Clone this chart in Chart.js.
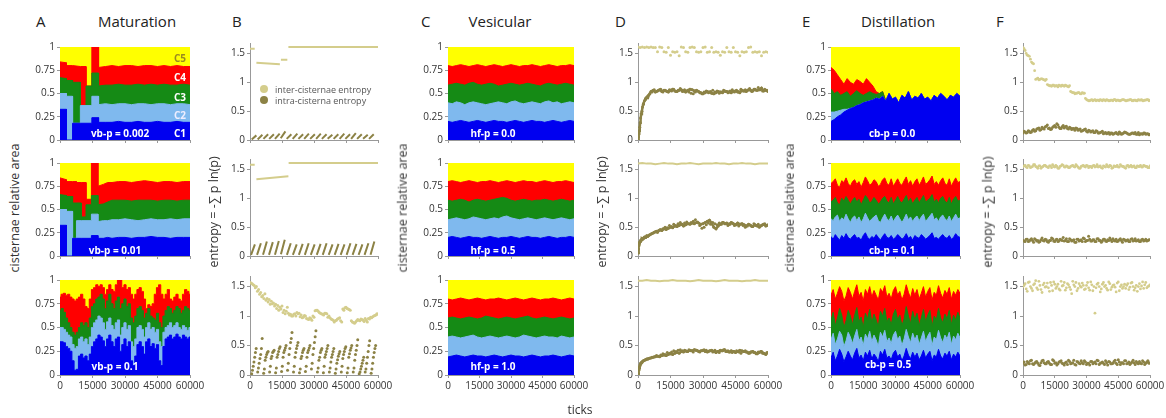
<!DOCTYPE html>
<html>
<head>
<meta charset="utf-8">
<script src="https://cdn.jsdelivr.net/npm/chart.js@4.4.0/dist/chart.umd.min.js"></script>
<style>
body { margin:0; background:#fff; width:1166px; height:418px; overflow:hidden; position:relative; font-family:'Open Sans', sans-serif; }
canvas { position:absolute; }
.t { position:absolute; white-space:nowrap; color:#222; line-height:1; }
.ttl { font-size:15px; }
.mid { transform:translateX(-50%); }
.ax { font-size:12.5px; color:#333; transform:translate(-50%,-50%) rotate(-90deg); }
.in { font-size:10px; font-weight:bold; color:#fff; transform:translate(-50%,-50%); }
.lg { font-size:9px; color:#555; transform:translateY(-50%); }
.dot { position:absolute; width:8px; height:8px; border-radius:50%; transform:translate(-50%,-50%); }
</style>
</head>
<body>
<script>
// tick grids (simulation ticks)
const tk31 = [0,2000,4000,6000,8000,10000,12000,14000,16000,18000,20000,22000,24000,26000,28000,30000,32000,34000,36000,38000,40000,42000,44000,46000,48000,50000,52000,54000,56000,58000,60000];
const tk41 = [0,1500,3000,4500,6000,7500,9000,10500,12000,13500,15000,16500,18000,19500,21000,22500,24000,25500,27000,28500,30000,31500,33000,34500,36000,37500,39000,40500,42000,43500,45000,46500,48000,49500,51000,52500,54000,55500,57000,58500,60000];
const tk61 = [0,1000,2000,3000,4000,5000,6000,7000,8000,9000,10000,11000,12000,13000,14000,15000,16000,17000,18000,19000,20000,21000,22000,23000,24000,25000,26000,27000,28000,29000,30000,31000,32000,33000,34000,35000,36000,37000,38000,39000,40000,41000,42000,43000,44000,45000,46000,47000,48000,49000,50000,51000,52000,53000,54000,55000,56000,57000,58000,59000,60000];
const tkH = [500,1500,2500,3500,4500,5500,6500,7500,8500,9500,10500,11500,12500,13500,14500,15500,16500,17500,18500,19500,20500,21500,22500,23500,24500,25500,26500,27500,28500,29500,30500,31500,32500,33500,34500,35500,36500,37500,38500,39500,40500,41500,42500,43500,44500,45500,46500,47500,48500,49500,50500,51500,52500,53500,54500,55500,56500,57500,58500,59500];
const tkD = [0,200,400,600,800,1000,1200,1500,1800,2100,2500,3000,3500,4000,4500,5000,6000,7000,8000,9000,10000,11000,12000,13000,14000,15000,16000,17000,18000,19000,20000,21000,22000,23000,24000,25000,26000,27000,28000,29000,30000,31000,32000,33000,34000,35000,36000,37000,38000,39000,40000,41000,42000,43000,44000,45000,46000,47000,48000,49000,50000,51000,52000,53000,54000,55000,56000,57000,58000,59000,60000];

const xTicks = [0,15000,30000,45000,60000];
const areaTicks = [0,0.25,0.5,0.75,1];
const entTicks = [0,0.5,1,1.5];

// Maturation: cumulative tops of C1..C4 (C5 fills to 1)
const matX1 = [0,3000,3000,5800,5800,9400,9400,12000,12000,14700,14700,17800,17800,21000,24000,27000,30000,33000,36000,39000,42000,45000,48000,51000,54000,57000,60000];
const mat1C1 = [.33,.33,0,0,.18,.18,.18,.18,.18,.18,.24,.24,.19,.19,.19,.2,.19,.19,.2,.19,.19,.2,.19,.19,.2,.19,.19];
const mat1C2 = [.5,.5,.47,.47,.18,.18,.37,.37,.37,.37,.47,.47,.38,.39,.38,.39,.39,.38,.39,.39,.38,.39,.39,.38,.39,.39,.38];
const mat1C3 = [.67,.66,.64,.64,.62,.62,.37,.37,.58,.58,.72,.72,.58,.59,.59,.6,.59,.59,.6,.59,.6,.59,.6,.59,.59,.6,.59];
const mat1C4 = [.84,.83,.8,.8,.8,.79,.79,.79,.58,.58,1,1,.78,.79,.8,.79,.8,.8,.79,.8,.8,.79,.8,.79,.8,.79,.79];

const matX2 = [0,3000,3000,5800,5800,7600,7600,9800,9800,12000,12000,14500,14500,17500,17500,20000,22000,24000,27000,30000,33000,36000,39000,42000,45000,48000,51000,54000,57000,60000];
const mat2C1 = [.33,.33,0,0,.19,.19,.19,.19,.19,.19,.19,.19,.22,.22,.19,.19,.2,.19,.2,.2,.19,.2,.2,.21,.2,.2,.19,.2,.2,.2];
const mat2C2 = [.5,.5,.48,.48,.19,.19,.38,.38,.38,.38,.38,.38,.45,.45,.37,.38,.38,.39,.39,.4,.39,.38,.39,.4,.39,.39,.4,.39,.4,.4];
const mat2C3 = [.66,.65,.64,.64,.57,.57,.57,.57,.42,.42,.55,.55,.65,.65,.55,.56,.58,.6,.6,.6,.59,.6,.6,.6,.59,.6,.6,.59,.6,.6];
const mat2C4 = [.84,.82,.8,.8,.8,.8,.79,.79,.79,.79,.61,.61,1,1,.75,.77,.79,.79,.8,.8,.79,.8,.81,.8,.79,.8,.8,.79,.8,.8];

const mat3C1 = [.35,.35,.34,.3,.28,.25,.15,.05,.06,.2,.22,.18,.2,.15,.22,.3,.35,.38,.42,.4,.36,.3,.38,.42,.35,.3,.38,.4,.25,.32,.38,.3,.35,.15,.1,.2,.32,.35,.3,.22,.35,.38,.3,.33,.28,.32,.15,.1,.3,.38,.4,.42,.38,.4,.43,.4,.38,.42,.4,.38,.4];
const mat3C2 = [.5,.5,.48,.45,.42,.4,.32,.28,.3,.38,.4,.35,.38,.32,.4,.5,.55,.58,.62,.6,.55,.48,.56,.6,.52,.48,.55,.58,.42,.5,.55,.48,.52,.35,.3,.38,.5,.52,.48,.4,.5,.55,.48,.5,.45,.48,.35,.3,.45,.5,.52,.55,.5,.52,.55,.5,.48,.52,.5,.47,.5];
const mat3C3 = [.68,.7,.66,.6,.55,.5,.45,.42,.45,.5,.55,.52,.55,.5,.6,.72,.75,.8,.82,.85,.8,.7,.78,.85,.75,.7,.78,.82,.7,.75,.8,.72,.75,.6,.55,.62,.7,.72,.68,.6,.65,.7,.62,.6,.58,.65,.55,.5,.62,.68,.72,.7,.65,.68,.72,.7,.65,.68,.72,.7,.68];
const mat3C4 = [.82,.85,.86,.84,.85,.82,.8,.78,.8,.82,.85,.8,.72,.7,.8,.9,.92,.95,.93,.95,.92,.85,.9,.95,.9,.88,.95,1,1,.92,.95,.9,.92,.85,.8,.85,.9,.92,.88,.8,.7,.74,.72,.75,.85,.92,.95,.85,.8,.85,.9,.8,.78,.82,.85,.8,.78,.85,.9,.88,.85];

// Vesicular
const ves1C1 = [.2,.19,.2,.21,.2,.19,.2,.21,.2,.19,.2,.21,.2,.2,.19,.2,.21,.2,.19,.2,.21,.2,.2,.19,.2,.21,.2,.19,.2,.21,.2];
const ves1C2 = [.4,.39,.41,.4,.38,.4,.41,.4,.39,.38,.39,.4,.41,.4,.39,.41,.42,.4,.39,.4,.41,.4,.39,.41,.42,.4,.41,.39,.4,.41,.4];
const ves1C3 = [.59,.6,.61,.6,.59,.61,.62,.6,.59,.6,.61,.6,.58,.59,.6,.61,.6,.59,.6,.61,.6,.59,.58,.6,.61,.6,.59,.6,.61,.6,.59];
const ves1C4 = [.8,.79,.8,.81,.8,.79,.8,.81,.8,.79,.8,.81,.8,.79,.8,.81,.8,.79,.8,.8,.81,.8,.79,.8,.81,.8,.79,.8,.8,.81,.8];
const ves2C1 = [.2,.21,.2,.19,.2,.21,.2,.2,.19,.2,.21,.2,.19,.2,.2,.21,.2,.19,.2,.21,.2,.2,.19,.2,.21,.2,.19,.2,.2,.21,.2];
const ves2C2 = [.39,.4,.41,.4,.39,.4,.42,.41,.4,.39,.4,.41,.4,.42,.43,.41,.4,.39,.4,.41,.4,.39,.4,.41,.4,.39,.4,.41,.4,.39,.4];
const ves2C3 = [.6,.59,.6,.61,.6,.58,.6,.61,.6,.59,.6,.61,.62,.63,.62,.6,.59,.6,.61,.6,.59,.6,.6,.61,.6,.59,.6,.61,.6,.59,.6];
const ves2C4 = [.8,.81,.8,.79,.8,.81,.8,.79,.8,.8,.81,.8,.79,.8,.81,.8,.79,.8,.81,.8,.8,.79,.8,.81,.8,.79,.8,.8,.81,.8,.79];
const ves3C1 = [.19,.2,.21,.2,.19,.2,.21,.2,.2,.19,.2,.21,.2,.19,.2,.21,.2,.2,.19,.2,.21,.2,.19,.2,.2,.21,.2,.19,.2,.21,.2];
const ves3C2 = [.4,.41,.4,.39,.4,.41,.42,.4,.39,.4,.41,.4,.39,.4,.41,.4,.39,.4,.42,.41,.4,.39,.4,.41,.4,.4,.39,.41,.4,.39,.4];
const ves3C3 = [.6,.61,.6,.59,.6,.61,.6,.59,.6,.62,.61,.6,.59,.6,.61,.6,.59,.6,.61,.62,.6,.59,.6,.61,.6,.59,.6,.61,.6,.59,.6];
const ves3C4 = [.8,.79,.8,.81,.8,.79,.8,.81,.8,.79,.8,.8,.81,.8,.79,.8,.81,.8,.79,.8,.81,.8,.79,.8,.8,.81,.8,.79,.8,.81,.8];

// Distillation
const dis1C1 = [.2,.22,.25,.27,.3,.32,.34,.35,.37,.38,.4,.41,.42,.43,.45,.44,.47,.42,.5,.44,.46,.4,.48,.45,.52,.43,.47,.45,.5,.44,.46,.42,.48,.45,.5,.47,.43,.48,.46,.5,.47];
const dis1C2 = [.3,.3,.31,.32,.33,.33,.34,.35,.37,.38,.4,.41,.42,.43,.45,.44,.47,.42,.5,.44,.46,.4,.48,.45,.52,.43,.47,.45,.5,.44,.46,.42,.48,.45,.5,.47,.43,.48,.46,.5,.47];
const dis1C3 = [.55,.5,.52,.48,.5,.52,.47,.5,.53,.5,.48,.5,.52,.5,.49,.5,.52,.42,.5,.44,.46,.4,.48,.45,.52,.43,.47,.45,.5,.44,.46,.42,.48,.45,.5,.47,.43,.48,.46,.5,.47];
const dis1C4 = [.78,.75,.7,.65,.6,.66,.62,.6,.65,.63,.6,.66,.62,.58,.52,.5,.52,.42,.5,.44,.46,.4,.48,.45,.52,.43,.47,.45,.5,.44,.46,.42,.48,.45,.5,.47,.43,.48,.46,.5,.47];
const dis2C1 = [.21,.18,.23,.2,.17,.22,.19,.24,.2,.18,.21,.23,.19,.2,.17,.22,.25,.2,.18,.21,.19,.23,.2,.17,.21,.24,.2,.19,.22,.18,.2,.23,.21,.18,.2,.24,.19,.21,.17,.22,.2,.19,.23,.21,.18,.2,.22,.25,.19,.2,.18,.21,.23,.2,.19,.22,.18,.2,.24,.21,.2];
const dis2C2 = [.4,.38,.42,.44,.37,.41,.39,.45,.4,.36,.41,.43,.38,.42,.36,.4,.46,.41,.37,.4,.42,.44,.38,.36,.41,.45,.4,.38,.43,.37,.41,.44,.4,.36,.4,.45,.39,.42,.37,.41,.43,.38,.42,.45,.37,.4,.43,.46,.39,.41,.37,.42,.44,.4,.38,.43,.37,.41,.45,.4,.41];
const dis2C3 = [.58,.6,.63,.57,.55,.62,.59,.64,.6,.56,.6,.63,.58,.61,.55,.6,.65,.62,.57,.59,.63,.6,.56,.58,.62,.64,.59,.57,.63,.56,.6,.64,.59,.57,.61,.65,.58,.62,.56,.6,.63,.57,.61,.65,.58,.6,.62,.66,.58,.61,.57,.62,.64,.59,.57,.63,.56,.61,.64,.59,.6];
const dis2C4 = [.78,.8,.83,.76,.74,.81,.79,.84,.78,.75,.8,.82,.77,.8,.74,.79,.85,.81,.76,.78,.82,.8,.75,.77,.82,.84,.78,.76,.83,.75,.79,.83,.78,.76,.81,.85,.77,.81,.75,.8,.83,.76,.8,.85,.77,.79,.82,.86,.77,.8,.76,.81,.84,.78,.76,.83,.75,.8,.84,.79,.8];
const dis3C1 = [.18,.24,.15,.2,.27,.22,.14,.19,.25,.2,.16,.23,.28,.18,.21,.15,.24,.2,.26,.17,.22,.19,.14,.25,.21,.27,.18,.2,.16,.23,.26,.19,.22,.15,.2,.28,.21,.17,.24,.19,.23,.16,.2,.26,.18,.22,.25,.15,.21,.19,.27,.2,.17,.23,.2,.25,.16,.22,.19,.24,.2];
const dis3C2 = [.37,.44,.32,.38,.46,.42,.3,.36,.45,.4,.33,.41,.48,.36,.4,.31,.43,.38,.46,.35,.42,.37,.3,.45,.4,.47,.35,.39,.33,.42,.46,.37,.41,.31,.38,.48,.4,.34,.44,.37,.42,.32,.39,.46,.35,.41,.45,.31,.4,.37,.47,.39,.34,.42,.38,.45,.32,.41,.37,.44,.39];
const dis3C3 = [.58,.66,.52,.6,.7,.63,.5,.57,.68,.62,.53,.63,.71,.56,.61,.5,.65,.59,.69,.55,.64,.58,.51,.67,.62,.7,.56,.6,.53,.64,.69,.58,.63,.52,.59,.72,.62,.54,.67,.58,.65,.52,.6,.69,.56,.63,.68,.51,.62,.58,.7,.6,.55,.64,.59,.68,.53,.63,.58,.66,.6];
const dis3C4 = [.84,.9,.8,.86,.93,.88,.78,.83,.92,.87,.8,.88,.95,.83,.87,.78,.9,.85,.93,.82,.89,.84,.79,.91,.87,.94,.82,.86,.8,.89,.93,.84,.88,.79,.85,.95,.87,.81,.91,.84,.9,.8,.86,.93,.82,.88,.92,.79,.87,.84,.94,.86,.81,.89,.85,.92,.8,.88,.84,.9,.86];

// Entropy, Maturation column (B)
const b1InterX = [0,2200,2300,3000,14000,14100,14500,17500,17600,18000,60000];
const b1InterY = [1.58,1.58,null,1.34,1.31,null,1.39,1.39,null,1.61,1.61];
const b1IntraX = [800,3000,3000,3600,5800,5800,6300,8500,8500,9000,11200,11200,11700,13900,13900,14400,16600,16600,17200,19400,19400,20000,22200,22200,22700,24900,24900,25400,27600,27600,28200,30400,30400,31000,33200,33200,33700,35900,35900,36400,38600,38600,39200,41400,41400,42000,44200,44200,44700,46900,46900,47400,49600,49600,50200,52400,52400,53000,55200,55200,55800,58000];
const b1IntraY = [.01,.08,null,.01,.09,null,.02,.1,null,.02,.1,null,.02,.11,null,.03,.15,null,.02,.1,null,.02,.11,null,.02,.1,null,.02,.11,null,.02,.1,null,.02,.11,null,.02,.1,null,.02,.09,null,.02,.1,null,.02,.11,null,.02,.1,null,.02,.12,null,.02,.1,null,.02,.09,null,.02,.1];
const b2InterX = [0,2200,2300,3000,18000,18100,18100,60000];
const b2InterY = [1.58,1.58,null,1.33,1.38,null,1.61,1.61];
const b2IntraX = [500,2300,2300,3300,5100,5100,6100,7900,7900,8900,10700,10700,11700,13500,13500,14500,16300,16300,17300,19100,19100,20100,21900,21900,22900,24700,24700,25700,27500,27500,28500,30300,30300,31300,33100,33100,34100,35900,35900,36900,38700,38700,39700,41500,41500,42500,44300,44300,45300,47100,47100,48100,49900,49900,50900,52700,52700,53700,55500,55500,56500,58300];
const b2IntraY = [.02,.2,null,.02,.22,null,.02,.25,null,.02,.24,null,.02,.26,null,.03,.28,null,.02,.22,null,.02,.2,null,.02,.21,null,.02,.22,null,.02,.2,null,.02,.21,null,.02,.22,null,.02,.2,null,.02,.21,null,.02,.2,null,.02,.22,null,.02,.21,null,.02,.2,null,.02,.22,null,.02,.25];
const b3InterY = [1.57,1.55,1.52,1.5,1.45,1.4,1.35,1.38,1.3,1.28,1.25,1.22,1.2,1.18,1.15,1.17,1.1,1.08,1.05,1.03,1.0,1.04,1.06,1.05,1.02,.98,1.0,.95,.97,.93,.98,1.1,1.08,1.05,1.03,1.05,1.04,1.0,.95,.93,.92,.95,.97,.9,1.1,1.15,1.12,1.1,.9,.88,.92,.93,.95,.93,.96,.9,.95,.97,1.0,1.02,1.03];
const b3InterY2 = [1.56,1.53,1.48,1.42,1.37,1.33,1.3,1.27,1.24,1.2,1.21,1.17,1.13,1.1,1.12,1.06,1.04,1.15,1.02,1.0,1.03,1.0,1.04,.99,.97,1.01,.96,.94,.96,1.0,1.09,1.1,1.06,1.04,1.02,1.05,.98,.97,.94,.9,.93,.96,.92,1.12,1.14,1.13,1.11,.92,.89,.9,.94,.92,.94,.91,.93,.96,.98,.99,1.01,1.04];
const b3IntraX = [800,1500,2200,2900,3600,4300,5000,5700,6400,7100,7800,8500,9200,9900,10600,11300,12000,12700,13400,14100,14800,15500,16200,16900,17600,18300,19000,19700,20400,21100,21800,22500,23200,23900,24600,25300,26000,26700,27400,28100,28800,29500,30200,30900,31600,32300,33000,33700,34400,35100,35800,36500,37200,37900,38600,39300,40000,40700,41400,42100,42800,43500,44200,44900,45600,46300,47000,47700,48400,49100,49800,50500,51200,51900,52600,53300,54000,54700,55400,56100,56800,57500,58200,58900];
const b3IntraY = [.02,.15,.3,.45,.05,.2,.35,.62,.03,.25,.35,.4,.05,.28,.38,.42,.04,.3,.4,.48,.06,.3,.42,.5,.08,.35,.55,.72,.05,.3,.45,.55,.04,.28,.38,.45,.06,.3,.42,.5,.1,.35,.55,.75,.05,.25,.38,.45,.04,.3,.4,.5,.05,.22,.35,.45,.03,.2,.32,.4,.05,.28,.4,.48,.04,.3,.42,.5,.05,.25,.42,.6,.02,.1,.2,.3,.05,.2,.4,.58,.03,.2,.38,.5];
const b3IntraX2 = [1150,1850,2550,3950,4650,5350,6750,7450,8150,9550,10250,10950,12350,13050,13750,15150,15850,16550,17950,18650,19350,20750,21450,22150,23550,24250,24950,26350,27050,27750,29150,29850,30550,31950,32650,33350,34750,35450,36150,37550,38250,38950,40350,41050,41750,43150,43850,44550,45950,46650,47350,48750,49450,50150,51550,52250,52950,54350,55050,55750,57150,57850,58550];
const b3IntraY2 = [.08,.22,.38,.12,.28,.45,.1,.3,.38,.15,.32,.4,.12,.35,.45,.15,.38,.46,.2,.45,.62,.15,.38,.5,.1,.32,.42,.15,.38,.46,.2,.45,.65,.12,.3,.42,.15,.35,.45,.12,.3,.4,.1,.26,.36,.15,.35,.45,.12,.36,.46,.12,.35,.5,.05,.15,.25,.1,.3,.5,.1,.3,.45];

// Entropy, Vesicular column (D)
const d1InterY = [1.61,1.6,1.61,1.6,1.61,1.6,1.61,1.6,1.6,1.53,1.61,1.6,1.53,1.52,1.6,1.47,1.53,1.52,1.53,1.46,1.61,1.6,1.53,1.52,1.6,1.61,1.6,1.53,1.52,1.53,1.6,1.61,1.52,1.53,1.6,1.52,1.53,1.52,1.47,1.53,1.52,1.6,1.53,1.52,1.6,1.53,1.52,1.46,1.53,1.52,1.53,1.6,1.61,1.52,1.53,1.52,1.53,1.46,1.52,1.53,1.52];
const d1IntraY = [0,.05,.1,.16,.22,.3,.38,.45,.5,.57,.63,.68,.72,.74,.73,.78,.84,.86,.83,.85,.87,.84,.86,.85,.83,.86,.88,.85,.84,.86,.87,.85,.83,.86,.88,.87,.85,.86,.84,.82,.8,.82,.84,.83,.81,.8,.82,.84,.83,.82,.85,.84,.83,.82,.84,.85,.83,.82,.86,.85,.84,.87,.86,.85,.88,.86,.87,.9,.85,.86,.84];
const d1IntraY2 = [.12,.46,.62,.7,.76,.8,.83,.87,.84,.86,.88,.83,.86,.84,.87,.85,.88,.84,.86,.89,.84,.87,.85,.83,.81,.8,.83,.85,.82,.8,.83,.85,.82,.84,.86,.83,.85,.81,.83,.86,.84,.82,.85,.87,.83,.86,.84,.88,.85,.87,.86,.89,.84,.88,.86,.91,.87,.85,.88,.86];
const d2InterY = [1.6,1.61,1.6,1.6,1.59,1.6,1.61,1.6,1.6,1.59,1.6,1.6,1.61,1.6,1.59,1.6,1.6,1.6,1.61,1.6,1.6,1.59,1.6,1.6,1.61,1.6,1.6,1.59,1.6,1.6,1.6];
const d2IntraY = [.05,.12,.2,.22,.24,.25,.27,.28,.3,.29,.31,.33,.32,.35,.34,.36,.38,.4,.42,.41,.45,.44,.47,.46,.48,.5,.49,.52,.51,.53,.55,.52,.54,.56,.55,.57,.56,.58,.57,.55,.56,.58,.6,.62,.57,.5,.47,.52,.55,.58,.56,.57,.55,.58,.56,.54,.57,.55,.56,.54,.52,.55,.53,.51,.54,.52,.5,.53,.55,.52,.54];
const d2IntraY2 = [.18,.27,.3,.32,.34,.37,.39,.41,.43,.44,.46,.47,.5,.49,.53,.51,.55,.53,.56,.58,.55,.57,.59,.56,.58,.6,.63,.59,.53,.48,.5,.54,.57,.55,.58,.56,.54,.57,.55,.58,.56,.53,.55,.57,.53,.54,.52,.55,.53,.5,.52,.54,.51,.56,.53,.55,.52,.54,.56,.53];
const d3InterY = [1.6,1.6,1.61,1.6,1.6,1.59,1.6,1.6,1.61,1.6,1.6,1.6,1.59,1.6,1.61,1.6,1.6,1.6,1.59,1.6,1.61,1.6,1.6,1.6,1.59,1.6,1.6,1.61,1.6,1.6,1.6];
const d3IntraY = [0,.03,.08,.12,.15,.18,.2,.21,.22,.23,.24,.25,.26,.27,.27,.28,.29,.3,.31,.32,.31,.33,.34,.33,.35,.36,.35,.37,.38,.37,.4,.39,.41,.4,.42,.41,.43,.42,.4,.41,.42,.4,.39,.41,.42,.4,.38,.4,.42,.41,.43,.4,.39,.41,.4,.38,.4,.42,.41,.4,.39,.37,.39,.4,.38,.36,.38,.4,.37,.35,.38];
const d3IntraY2 = [.1,.2,.24,.26,.27,.29,.3,.31,.33,.32,.34,.36,.35,.38,.37,.39,.41,.4,.42,.43,.41,.42,.4,.43,.41,.39,.42,.41,.39,.41,.43,.42,.4,.41,.39,.42,.4,.38,.41,.43,.4,.41,.39,.38,.4,.41,.39,.37,.4,.41,.39,.37,.39,.38,.36,.39,.4,.37,.36,.38];

// Entropy, Distillation column (F)
const f1InterY = [1.6,1.55,1.47,1.45,1.35,1.32,1.05,1.07,1.05,1.06,1.04,1.05,.95,.94,.95,.93,.94,.95,.93,.94,.95,.93,.94,.83,.82,.81,.82,.8,.82,.81,.7,.68,.69,.68,.7,.69,.68,.69,.7,.68,.69,.68,.69,.7,.68,.69,.68,.7,.69,.68,.69,.7,.68,.69,.68,.69,.7,.68,.69,.7,.69];
const f1InterY2 = [1.58,1.5,1.46,1.4,1.33,1.2,1.06,1.04,1.06,1.05,1.03,.96,.94,.93,.95,.94,.92,.94,.95,.93,.94,.92,.84,.82,.8,.81,.82,.8,.81,.72,.69,.68,.7,.69,.68,.69,.7,.68,.69,.7,.68,.69,.68,.7,.69,.68,.69,.7,.68,.69,.7,.68,.69,.68,.7,.69,.68,.69,.7,.68];
const f1IntraY = [.12,.14,.13,.15,.14,.18,.16,.2,.17,.22,.19,.24,.2,.18,.22,.25,.28,.22,.2,.25,.23,.2,.22,.18,.2,.21,.17,.19,.16,.18,.15,.17,.14,.16,.13,.15,.12,.14,.11,.13,.12,.1,.12,.11,.13,.1,.12,.11,.14,.12,.1,.11,.12,.13,.1,.09,.11,.12,.1,.11,.1];
const f1IntraY2 = [.15,.12,.16,.13,.17,.15,.19,.21,.18,.2,.23,.26,.21,.19,.24,.22,.26,.2,.23,.21,.24,.19,.21,.2,.17,.2,.18,.15,.17,.19,.14,.16,.15,.13,.16,.12,.13,.15,.12,.11,.13,.12,.1,.12,.11,.14,.1,.12,.13,.11,.1,.12,.11,.1,.13,.11,.1,.12,.11,.09];
const f2InterY = [1.55,1.57,1.53,1.56,1.54,1.58,1.55,1.52,1.56,1.54,1.57,1.55,1.53,1.56,1.58,1.54,1.55,1.52,1.56,1.57,1.54,1.55,1.53,1.56,1.55,1.58,1.54,1.52,1.56,1.55,1.57,1.53,1.55,1.56,1.54,1.58,1.55,1.53,1.56,1.54,1.55,1.57,1.52,1.56,1.55,1.54,1.58,1.55,1.53,1.56,1.54,1.57,1.55,1.53,1.56,1.55,1.54,1.57,1.55,1.53,1.56];
const f2InterY2 = [1.56,1.54,1.57,1.53,1.55,1.58,1.54,1.56,1.52,1.55,1.57,1.54,1.56,1.53,1.55,1.57,1.52,1.55,1.58,1.54,1.56,1.53,1.55,1.57,1.54,1.56,1.52,1.55,1.57,1.54,1.56,1.55,1.53,1.57,1.55,1.54,1.56,1.52,1.55,1.58,1.54,1.56,1.53,1.55,1.57,1.54,1.56,1.55,1.52,1.57,1.55,1.54,1.56,1.53,1.55,1.57,1.54,1.56,1.55,1.53];
const f2IntraY = [.27,.25,.29,.26,.3,.24,.28,.27,.25,.31,.26,.28,.24,.27,.3,.25,.29,.26,.28,.32,.27,.25,.3,.26,.28,.24,.29,.27,.25,.3,.27,.34,.26,.28,.25,.3,.27,.24,.29,.26,.28,.31,.25,.27,.29,.26,.3,.24,.28,.27,.25,.29,.26,.3,.27,.25,.28,.26,.29,.27,.28];
const f2IntraY2 = [.26,.29,.25,.28,.27,.3,.26,.24,.28,.27,.29,.25,.27,.31,.26,.28,.25,.29,.27,.26,.3,.25,.28,.27,.24,.29,.26,.28,.31,.25,.27,.29,.26,.28,.25,.3,.27,.26,.29,.25,.27,.28,.3,.26,.25,.28,.27,.29,.26,.28,.25,.3,.27,.26,.28,.25,.29,.27,.26,.28];
const f3InterY = [1.5,1.55,1.42,1.58,1.47,1.53,1.6,1.45,1.52,1.4,1.56,1.5,1.48,1.57,1.43,1.54,1.5,1.46,1.59,1.52,1.44,1.55,1.49,1.38,1.53,1.57,1.47,1.51,1.56,1.45,1.52,1.48,1.58,1.43,1.05,1.54,1.5,1.46,1.57,1.52,1.44,1.55,1.49,1.53,1.41,1.58,1.5,1.47,1.54,1.52,1.45,1.56,1.5,1.48,1.42,1.55,1.51,1.47,1.57,1.5,1.53];
const f3InterY2 = [1.52,1.46,1.57,1.5,1.43,1.55,1.48,1.59,1.45,1.53,1.49,1.56,1.42,1.52,1.58,1.47,1.54,1.44,1.51,1.57,1.48,1.53,1.45,1.59,1.5,1.43,1.55,1.49,1.52,1.46,1.57,1.44,1.53,1.5,1.48,1.56,1.41,1.54,1.5,1.47,1.58,1.45,1.52,1.49,1.56,1.43,1.53,1.5,1.47,1.55,1.49,1.57,1.44,1.52,1.5,1.46,1.58,1.53,1.48,1.51];
const f3IntraY = [.2,.17,.23,.19,.25,.18,.22,.2,.16,.24,.21,.19,.23,.18,.26,.2,.17,.22,.24,.19,.21,.18,.23,.2,.25,.17,.22,.19,.21,.24,.18,.2,.23,.19,.22,.25,.18,.21,.2,.24,.17,.22,.19,.23,.2,.26,.18,.21,.24,.19,.22,.2,.25,.18,.21,.23,.19,.22,.2,.24,.21];
const f3IntraY2 = [.22,.18,.21,.24,.19,.2,.23,.17,.21,.25,.19,.22,.2,.18,.24,.21,.19,.23,.2,.17,.22,.25,.19,.21,.18,.23,.2,.24,.19,.22,.2,.17,.23,.21,.19,.24,.2,.22,.18,.21,.23,.19,.2,.25,.18,.22,.21,.19,.24,.2,.18,.22,.21,.23,.19,.2,.24,.18,.22,.2];

const C1 = '#0000f0', C2 = '#7fb9ee', C3 = '#158a15', C4 = '#ff0000', C5 = '#ffff00';
const INTER = '#d4cd8c', INTRA = '#8c8245';

// layout of the 6x3 grid (plot area pixels)
const YW = 32, PT = 8, PR = 22;
const COLS = { A: [60, 190], B: [250, 378], C: [448, 574], D: [638, 768], E: [831, 960], F: [1023, 1150] };
const BASE = [142, 258, 375];
const AREA_TOP = [47, 163, 280];
const ENT_MAX = 1.68;

const xy = (xs, ys) => xs.map((x, i) => ({ x: x, y: ys[i] }));

function areaSets(xs, b1, b2, b3, b4, stepped) {
    const mk = (ys, color, fill) => ({
        data: xy(xs, ys), fill: fill, backgroundColor: color, borderColor: color,
        borderWidth: 1, pointRadius: 0, tension: 0, stepped: stepped || false
    });
    return [mk(b1, C1, 'origin'), mk(b2, C2, 'origin'), mk(b3, C3, 'origin'), mk(b4, C4, 'origin'), mk(b4, C5, 'end')];
}

function pts(xs, ys, color, r) {
    return { data: xy(xs, ys), showLine: false, pointRadius: r, pointBorderWidth: 0, pointBackgroundColor: color, borderColor: color };
}

function seg(xs, ys, color, w) {
    return { data: xy(xs, ys), showLine: true, spanGaps: false, borderColor: color, borderWidth: w, pointRadius: 0, fill: false };
}

function panel(col, row, yMax, yTicks, datasets) {
    const [l, r] = COLS[col];
    const bottom = BASE[row];
    const top = yMax === 1 ? AREA_TOP[row] : bottom - Math.round(yMax * 59);
    const xh = row === 2 ? 22 : 6;
    const w = r - l + YW + PR, h = bottom - top + PT + xh;
    const cv = document.createElement('canvas');
    cv.width = w; cv.height = h;
    cv.style.left = (l - YW) + 'px'; cv.style.top = (top - PT) + 'px';
    cv.style.width = w + 'px'; cv.style.height = h + 'px';
    document.body.appendChild(cv);
    const tickFont = { family: 'Open Sans', size: 10 };
    new Chart(cv, {
        type: 'line',
        data: { datasets: datasets },
        options: {
            responsive: false,
            animation: false,
            devicePixelRatio: 1,
            layout: { padding: { top: PT, right: PR, left: 0, bottom: 0 } },
            plugins: { legend: { display: false }, tooltip: { enabled: false } },
            scales: {
                x: {
                    type: 'linear', min: 0, max: 60000,
                    afterBuildTicks: s => { s.ticks = xTicks.map(v => ({ value: v })); },
                    afterFit: s => { s.height = xh; },
                    ticks: { display: row === 2, maxRotation: 0, autoSkip: false, padding: 2, color: '#333', font: tickFont, callback: v => String(v) },
                    grid: { drawOnChartArea: false, tickLength: 3, color: '#999' },
                    border: { color: '#999' }
                },
                y: {
                    min: 0, max: yMax,
                    afterBuildTicks: s => { s.ticks = yTicks.map(v => ({ value: v })); },
                    afterFit: s => { s.width = YW; },
                    ticks: { padding: 2, color: '#333', font: tickFont, callback: v => String(v) },
                    grid: { drawOnChartArea: false, tickLength: 3, color: '#999' },
                    border: { color: '#999' }
                }
            }
        }
    });
}

// A: Maturation
panel('A', 0, 1, areaTicks, areaSets(matX1, mat1C1, mat1C2, mat1C3, mat1C4));
panel('A', 1, 1, areaTicks, areaSets(matX2, mat2C1, mat2C2, mat2C3, mat2C4));
panel('A', 2, 1, areaTicks, areaSets(tk61, mat3C1, mat3C2, mat3C3, mat3C4, 'middle'));
// B
panel('B', 0, ENT_MAX, entTicks, [seg(b1InterX, b1InterY, INTER, 2), seg(b1IntraX, b1IntraY, INTRA, 2)]);
panel('B', 1, ENT_MAX, entTicks, [seg(b2InterX, b2InterY, INTER, 2), seg(b2IntraX, b2IntraY, INTRA, 2)]);
panel('B', 2, ENT_MAX, entTicks, [
    pts(tk61, b3InterY, INTER, 1.5), pts(tkH, b3InterY2, INTER, 1.5),
    pts(b3IntraX, b3IntraY, INTRA, 1.5), pts(b3IntraX2, b3IntraY2, INTRA, 1.5)
]);
// C: Vesicular
panel('C', 0, 1, areaTicks, areaSets(tk31, ves1C1, ves1C2, ves1C3, ves1C4));
panel('C', 1, 1, areaTicks, areaSets(tk31, ves2C1, ves2C2, ves2C3, ves2C4));
panel('C', 2, 1, areaTicks, areaSets(tk31, ves3C1, ves3C2, ves3C3, ves3C4));
// D
panel('D', 0, ENT_MAX, entTicks, [pts(tk61, d1InterY, INTER, 1.5), seg(tkD, d1IntraY, INTRA, 2.5), pts(tkD, d1IntraY, INTRA, 1.5), pts(tkH, d1IntraY2, INTRA, 1.5)]);
panel('D', 1, ENT_MAX, entTicks, [seg(tk31, d2InterY, INTER, 2), seg(tkD, d2IntraY, INTRA, 2.5), pts(tkD, d2IntraY, INTRA, 1.5), pts(tkH, d2IntraY2, INTRA, 1.5)]);
panel('D', 2, ENT_MAX, entTicks, [seg(tk31, d3InterY, INTER, 2), seg(tkD, d3IntraY, INTRA, 2.5), pts(tkD, d3IntraY, INTRA, 1.5), pts(tkH, d3IntraY2, INTRA, 1.5)]);
// E: Distillation
panel('E', 0, 1, areaTicks, areaSets(tk41, dis1C1, dis1C2, dis1C3, dis1C4));
panel('E', 1, 1, areaTicks, areaSets(tk61, dis2C1, dis2C2, dis2C3, dis2C4));
panel('E', 2, 1, areaTicks, areaSets(tk61, dis3C1, dis3C2, dis3C3, dis3C4));
// F
panel('F', 0, ENT_MAX, entTicks, [pts(tk61, f1InterY, INTER, 1.4), pts(tkH, f1InterY2, INTER, 1.4), pts(tk61, f1IntraY, INTRA, 1.5), pts(tkH, f1IntraY2, INTRA, 1.5)]);
panel('F', 1, ENT_MAX, entTicks, [pts(tk61, f2InterY, INTER, 1.4), pts(tkH, f2InterY2, INTER, 1.4), pts(tk61, f2IntraY, INTRA, 1.5), pts(tkH, f2IntraY2, INTRA, 1.5)]);
panel('F', 2, ENT_MAX, entTicks, [pts(tk61, f3InterY, INTER, 1.4), pts(tkH, f3InterY2, INTER, 1.4), pts(tk61, f3IntraY, INTRA, 1.5), pts(tkH, f3IntraY2, INTRA, 1.5)]);
</script>

<div class="t ttl" style="left:36px;top:14px">A</div>
<div class="t ttl mid" style="left:137px;top:14px">Maturation</div>
<div class="t ttl" style="left:232px;top:14px">B</div>
<div class="t ttl" style="left:421px;top:14px">C</div>
<div class="t ttl mid" style="left:500px;top:14px">Vesicular</div>
<div class="t ttl" style="left:615px;top:14px">D</div>
<div class="t ttl" style="left:802px;top:14px">E</div>
<div class="t ttl mid" style="left:898px;top:14px">Distillation</div>
<div class="t ttl" style="left:996px;top:14px">F</div>

<div class="t ax" style="left:15px;top:208px">cisternae relative area</div>
<div class="t ax" style="left:214px;top:212px">entropy = -∑ p ln(p)</div>
<div class="t ax" style="left:403px;top:208px">cisternae relative area</div>
<div class="t ax" style="left:602px;top:212px">entropy = -∑ p ln(p)</div>
<div class="t ax" style="left:790px;top:208px">cisternae relative area</div>
<div class="t ax" style="left:988px;top:212px">entropy = -∑ p ln(p)</div>
<div class="t" style="left:580px;top:404px;font-size:12px;color:#333;transform:translateX(-50%)">ticks</div>

<div class="t in" style="left:180px;top:58px;color:#9a8a20">C5</div>
<div class="t in" style="left:180px;top:77px">C4</div>
<div class="t in" style="left:180px;top:97px">C3</div>
<div class="t in" style="left:180px;top:115px;color:#eef">C2</div>
<div class="t in" style="left:180px;top:133px">C1</div>
<div class="t in" style="left:120px;top:133px">vb-p = 0.002</div>
<div class="t in" style="left:115px;top:250px">vb-p = 0.01</div>
<div class="t in" style="left:115px;top:366px">vb-p = 0.1</div>
<div class="t in" style="left:493px;top:133px">hf-p = 0.0</div>
<div class="t in" style="left:493px;top:250px">hf-p = 0.5</div>
<div class="t in" style="left:493px;top:366px">hf-p = 1.0</div>
<div class="t in" style="left:892px;top:133px">cb-p = 0.0</div>
<div class="t in" style="left:892px;top:250px">cb-p = 0.1</div>
<div class="t in" style="left:888px;top:364px">cb-p = 0.5</div>

<div class="dot" style="left:264px;top:89px;background:#d4cd8c"></div>
<div class="t lg" style="left:275px;top:89px">inter-cisternae entropy</div>
<div class="dot" style="left:264px;top:100px;background:#8c8245"></div>
<div class="t lg" style="left:275px;top:100px">intra-cisterna entropy</div>
</body>
</html>
